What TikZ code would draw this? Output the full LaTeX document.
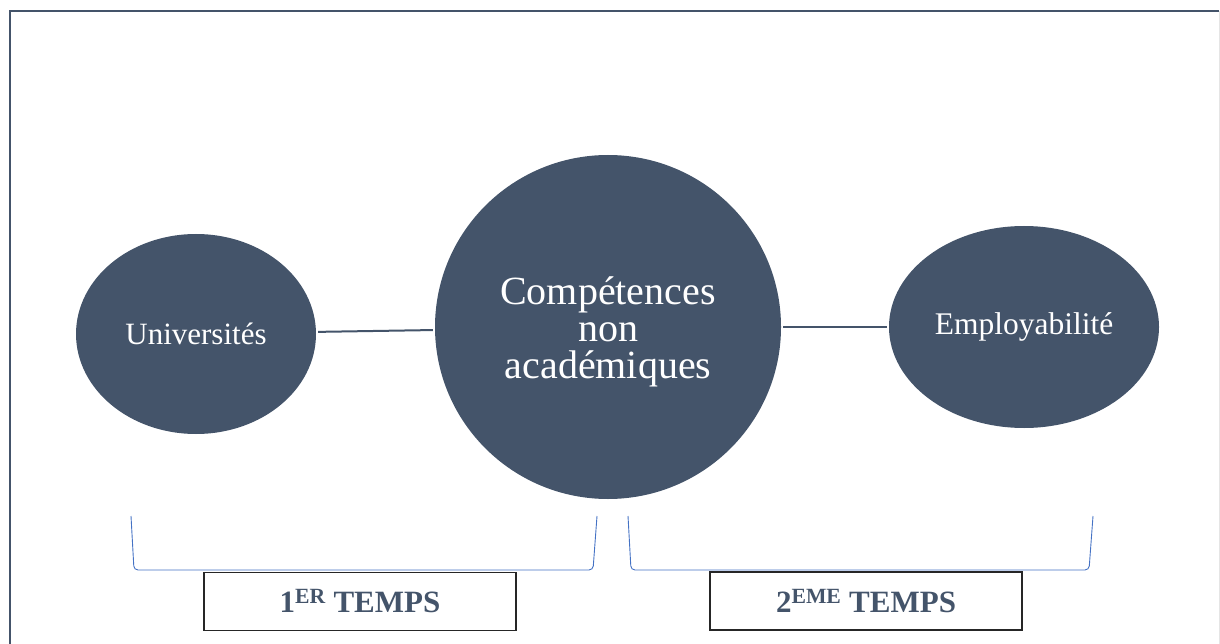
\documentclass[tikz,border=0pt]{standalone}
\usepackage{fontspec}
\setmainfont{Liberation Serif}
\usetikzlibrary{shapes.geometric}
\definecolor{slate}{HTML}{44546A}
\definecolor{brblue}{HTML}{4472C4}
\tikzset{
  bubble/.style={ellipse, fill=slate, text=white, inner sep=0pt, align=center},
  link/.style={draw=slate, line width=2pt, shorten <=2pt, shorten >=2pt},
  brace/.style={draw=brblue, line width=0.9pt, rounded corners=4pt},
  tempsbox/.style={draw=black!85, line width=1.4pt, minimum width=312pt, minimum height=58pt, inner sep=0pt,
    text=slate, font=\fontsize{31}{34}\selectfont\bfseries},
}
\begin{document}
\begin{tikzpicture}[x=1pt, y=-1pt]
\useasboundingbox (0,0) rectangle (1220,644);
% frame
\draw[slate, line width=2.5pt] (10,645) -- (10,11) -- (1219,11);
\draw[black!10, line width=1pt] (1219,11) -- (1219,645);
% bubbles
\node[bubble, minimum width=240pt, minimum height=200pt, font=\fontsize{31}{34}\selectfont] (univ) at (196,334) {Universités};
\node[bubble, minimum width=346pt, minimum height=344pt] (comp) at (608,327) {};
\node[text=white, align=center, font=\fontsize{40}{37}\selectfont, inner sep=0pt] (comptxt) at (608,332) {Compétences\\non\\académiques};
\node[bubble, minimum width=270pt, minimum height=202pt, font=\fontsize{31.5}{34}\selectfont] (emp) at (1024,327) {Employabilité};
% links
\draw[link] (univ.1) -- (comp.181);
\draw[link] (comp.east) -- (emp.west);
% brackets
\coordinate (b1a) at (131,516);
\coordinate (b1b) at (597,516);
\coordinate (b2a) at (628,516);
\coordinate (b2b) at (1093,516);
\draw[brace] (b1a) -- (134,570) -- (593,570) -- (b1b);
\draw[brace] (b2a) -- (631,570) -- (1089,570) -- (b2b);
% boxes
\node[tempsbox] (t1) at (360,601.5) {1\textsuperscript{ER} TEMPS};
\node[tempsbox] (t2) at (866,601) {2\textsuperscript{EME} TEMPS};
\end{tikzpicture}
\end{document}
